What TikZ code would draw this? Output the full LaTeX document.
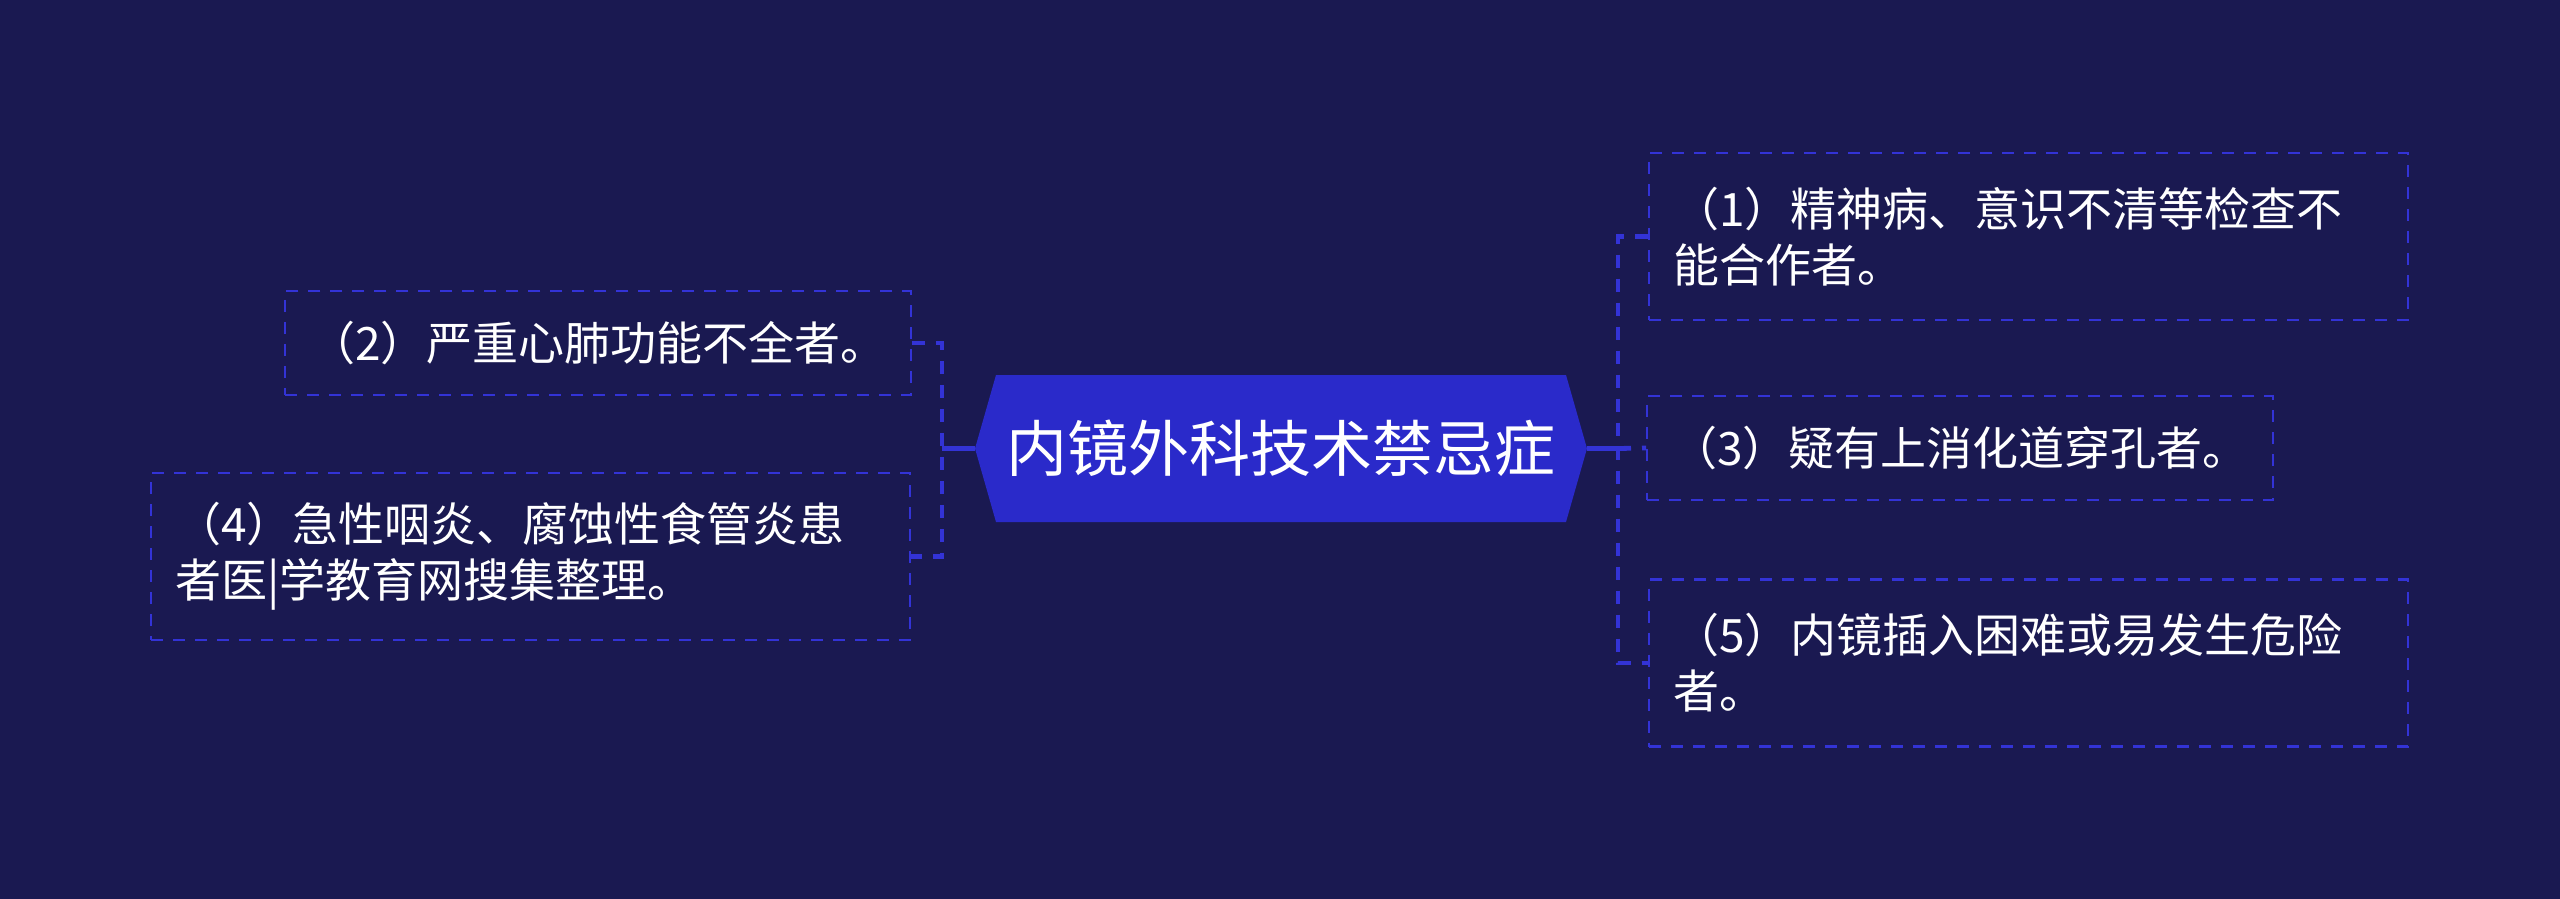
\documentclass[tikz,border=0pt]{standalone}
\usepackage{fontspec}
\setmainfont{Noto Sans CJK SC}
\definecolor{bgnavy}{HTML}{1A1951}
\definecolor{titleblue}{HTML}{2A2ACA}
\definecolor{lineblue}{HTML}{3333D6}
\newcommand\leaffont{\fontsize{23pt}{28pt}\selectfont}
\newcommand\titlefont{\fontsize{30.5pt}{36pt}\selectfont}
\begin{document}
\begin{tikzpicture}[x=0.5pt, y=-0.5pt,
	leaf/.style={draw=lineblue, line width=1.1pt, dash pattern=on 6pt off 5pt, text=white, inner xsep=12pt, inner ysep=0pt, minimum height=83.5pt, font=\leaffont},
	twoline/.style={leaf, text width=355.5pt, align=left},
	oneline/.style={leaf, minimum width=311pt, minimum height=52pt},
	title/.style={text=white, font=\titlefont, inner sep=0pt, minimum width=306pt, minimum height=73.5pt,
		path picture={\fill[titleblue] (path picture bounding box.west) -- ([xshift=10.5pt]path picture bounding box.north west) -- ([xshift=-10.5pt]path picture bounding box.north east) -- (path picture bounding box.east) -- ([xshift=-10.5pt]path picture bounding box.south east) -- ([xshift=10.5pt]path picture bounding box.south west) -- cycle;}},
	stub/.style={draw=lineblue, line width=2.4pt},
	bus/.style={stub, dash pattern=on 6.5pt off 5.5pt}]
	\fill[bgnavy] (0, 0) rectangle (2560, 899);
	\useasboundingbox (0, 0) rectangle (2560, 899);
	\node[title] at (1281, 448.5) (root) {内镜外科技术禁忌症};
	\node[twoline] at (2028.5, 236.5) (c1) {（1）精神病、意识不清等检查不\\能合作者。};
	\node[oneline] at (598, 343) (c2) {（2）严重心肺功能不全者。};
	\node[oneline] at (1960, 448) (c3) {（3）疑有上消化道穿孔者。};
	\node[twoline] at (530.5, 556.5) (c4) {（4）急性咽炎、腐蚀性食管炎患\\者医|学教育网搜集整理。};
	\node[twoline] at (2028.5, 663) (c5) {（5）内镜插入困难或易发生危险\\者。};
	\coordinate (lbus) at (942, 448.5);
	\coordinate (rbus) at (1618, 448.5);
	\draw[stub] (root.west) -- (lbus);
	\draw[bus] (c2.east) -- (c2.east -| lbus) -- (c4.east -| lbus) -- (c4.east);
	\draw[stub] (root.east) -- (rbus);
	\draw[bus] (c1.west) -- (c1.west -| rbus) -- (c5.west -| rbus) -- (c5.west);
	\draw[bus] (rbus) -- (c3.west);
\end{tikzpicture}
\end{document}
